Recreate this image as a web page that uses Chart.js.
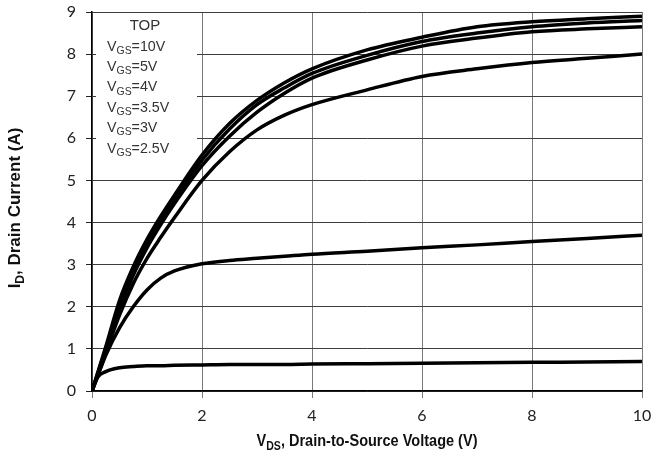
<!DOCTYPE html>
<html>
<head>
<meta charset="utf-8">
<script src="https://cdn.jsdelivr.net/npm/chart.js@4/dist/chart.umd.min.js"></script>
<style>
  html, body { margin: 0; padding: 0; background: #fff; }
  #wrap { width: 651px; height: 455px; position: relative; }
</style>
</head>
<body>
<div id="wrap"><canvas id="c" width="651" height="455"></canvas></div>
<script>
// ---- Data ----
const vds = [0, 0.1, 0.25, 0.5, 0.75, 1, 1.25, 1.5, 2, 2.5, 3, 3.5, 4, 5, 6, 7, 8, 9, 10];
const id_vgs10  = [0, 0.42, 1.05, 2.15, 2.95, 3.60, 4.15, 4.65, 5.60, 6.35, 6.90, 7.32, 7.65, 8.10, 8.40, 8.65, 8.77, 8.84, 8.90];
const id_vgs5   = [0, 0.40, 1.00, 2.05, 2.85, 3.50, 4.05, 4.55, 5.48, 6.22, 6.80, 7.20, 7.54, 7.97, 8.30, 8.50, 8.65, 8.74, 8.80];
const id_vgs4   = [0, 0.38, 0.95, 1.95, 2.75, 3.40, 3.95, 4.45, 5.35, 6.05, 6.62, 7.07, 7.43, 7.86, 8.19, 8.38, 8.53, 8.60, 8.65];
const id_vgs3_5 = [0, 0.36, 0.90, 1.80, 2.55, 3.15, 3.65, 4.12, 5.00, 5.68, 6.20, 6.55, 6.80, 7.15, 7.47, 7.65, 7.80, 7.90, 8.00];
const id_vgs3   = [0, 0.34, 0.85, 1.50, 2.00, 2.40, 2.68, 2.85, 3.02, 3.10, 3.15, 3.20, 3.25, 3.32, 3.40, 3.47, 3.55, 3.62, 3.70];
const id_vgs2_5 = [0, 0.32, 0.46, 0.55, 0.58, 0.60, 0.60, 0.61, 0.62, 0.63, 0.63, 0.63, 0.64, 0.65, 0.66, 0.67, 0.68, 0.69, 0.70];
const legendLines = ['10V', '5V', '4V', '3.5V', '3V', '2.5V'];
const legendHeader = 'TOP';
const xTitle = [['V', false], ['DS', true], [', Drain-to-Source Voltage (V)', false]];
const yTitle = [['I', false], ['D', true], [', Drain Current (A)', false]];

const series = [id_vgs10, id_vgs5, id_vgs4, id_vgs3_5, id_vgs3, id_vgs2_5];

const SANS = '"Liberation Sans", Arial, sans-serif';
const TICKFONT = 'Lato, "Open Sans", sans-serif';

function drawRich(ctx, parts, x, y, size, bold, family, align, sx) {
  sx = sx || 1;
  const f = sub => (bold ? 'bold ' : '') + (sub ? Math.round(size * 0.72) : size) + 'px ' + family;
  let total = 0;
  parts.forEach(p => { ctx.font = f(p[1]); total += ctx.measureText(p[0]).width; });
  ctx.save();
  ctx.translate(x, y);
  ctx.scale(sx, 1);
  let cx = align === 'center' ? -total / 2 : 0;
  ctx.textAlign = 'left';
  ctx.textBaseline = 'alphabetic';
  parts.forEach(p => {
    ctx.font = f(p[1]);
    ctx.fillText(p[0], cx, p[1] ? size * 0.22 : 0);
    cx += ctx.measureText(p[0]).width;
  });
  ctx.restore();
}

const overlay = {
  id: 'overlay',
  beforeDatasetsDraw(chart) {
    const ctx = chart.ctx;
    ctx.save();
    ctx.fillStyle = '#fff';
    ctx.fillRect(96, 13, 101, 150);
    ctx.fillStyle = '#333';
    ctx.font = '15px ' + SANS;
    ctx.textAlign = 'center';
    ctx.textBaseline = 'alphabetic';
    ctx.fillText(legendHeader, 145, 30);
    legendLines.forEach((v, i) => {
      drawRich(ctx, [['V', false], ['GS', true], ['=' + v, false]], 107, 50.5 + i * 20.4, 15, false, SANS, 'left', 0.95);
    });
    ctx.restore();
  },
  afterDraw(chart) {
    const ctx = chart.ctx;
    const a = chart.chartArea;
    ctx.save();
    ctx.fillStyle = '#111';
    drawRich(ctx, xTitle, (a.left + a.right) / 2, 446, 16.5, true, SANS, 'center', 0.88);
    ctx.translate(20, 208);
    ctx.rotate(-Math.PI / 2);
    drawRich(ctx, yTitle, 0, 0, 17, true, SANS, 'center', 1);
    ctx.restore();
  }
};

new Chart(document.getElementById('c'), {
  type: 'line',
  data: {
    datasets: series.map(s => ({
      data: vds.map((x, i) => ({ x: x, y: s[i] })),
      borderColor: '#000',
      borderWidth: 3.5,
      pointRadius: 0,
      fill: false,
      cubicInterpolationMode: 'monotone'
    }))
  },
  options: {
    responsive: false,
    animation: false,
    devicePixelRatio: 1,
    layout: { padding: { left: 0, right: 9, top: 12, bottom: 0 } },
    plugins: { legend: { display: false }, tooltip: { enabled: false } },
    scales: {
      x: {
        type: 'linear', min: 0, max: 10,
        afterFit: s => { s.height = 64; s.paddingLeft = 0; s.paddingRight = 0; },
        ticks: { stepSize: 2, color: '#222', padding: 8, font: { size: 16, family: TICKFONT } },
        grid: { color: '#7a7a7a', lineWidth: 1, tickLength: 7, tickColor: '#7a7a7a' },
        border: { color: '#000', width: 1.5 }
      },
      y: {
        min: 0, max: 9,
        afterFit: s => { s.width = 92; s.paddingTop = 0; s.paddingBottom = 0; },
        ticks: { stepSize: 1, color: '#222', padding: 10, font: { size: 16, family: TICKFONT } },
        grid: { color: '#3c3c3c', lineWidth: 1, tickLength: 6, tickColor: '#222' },
        border: { color: '#000', width: 1.5 }
      }
    }
  },
  plugins: [overlay]
});
</script>
</body>
</html>
